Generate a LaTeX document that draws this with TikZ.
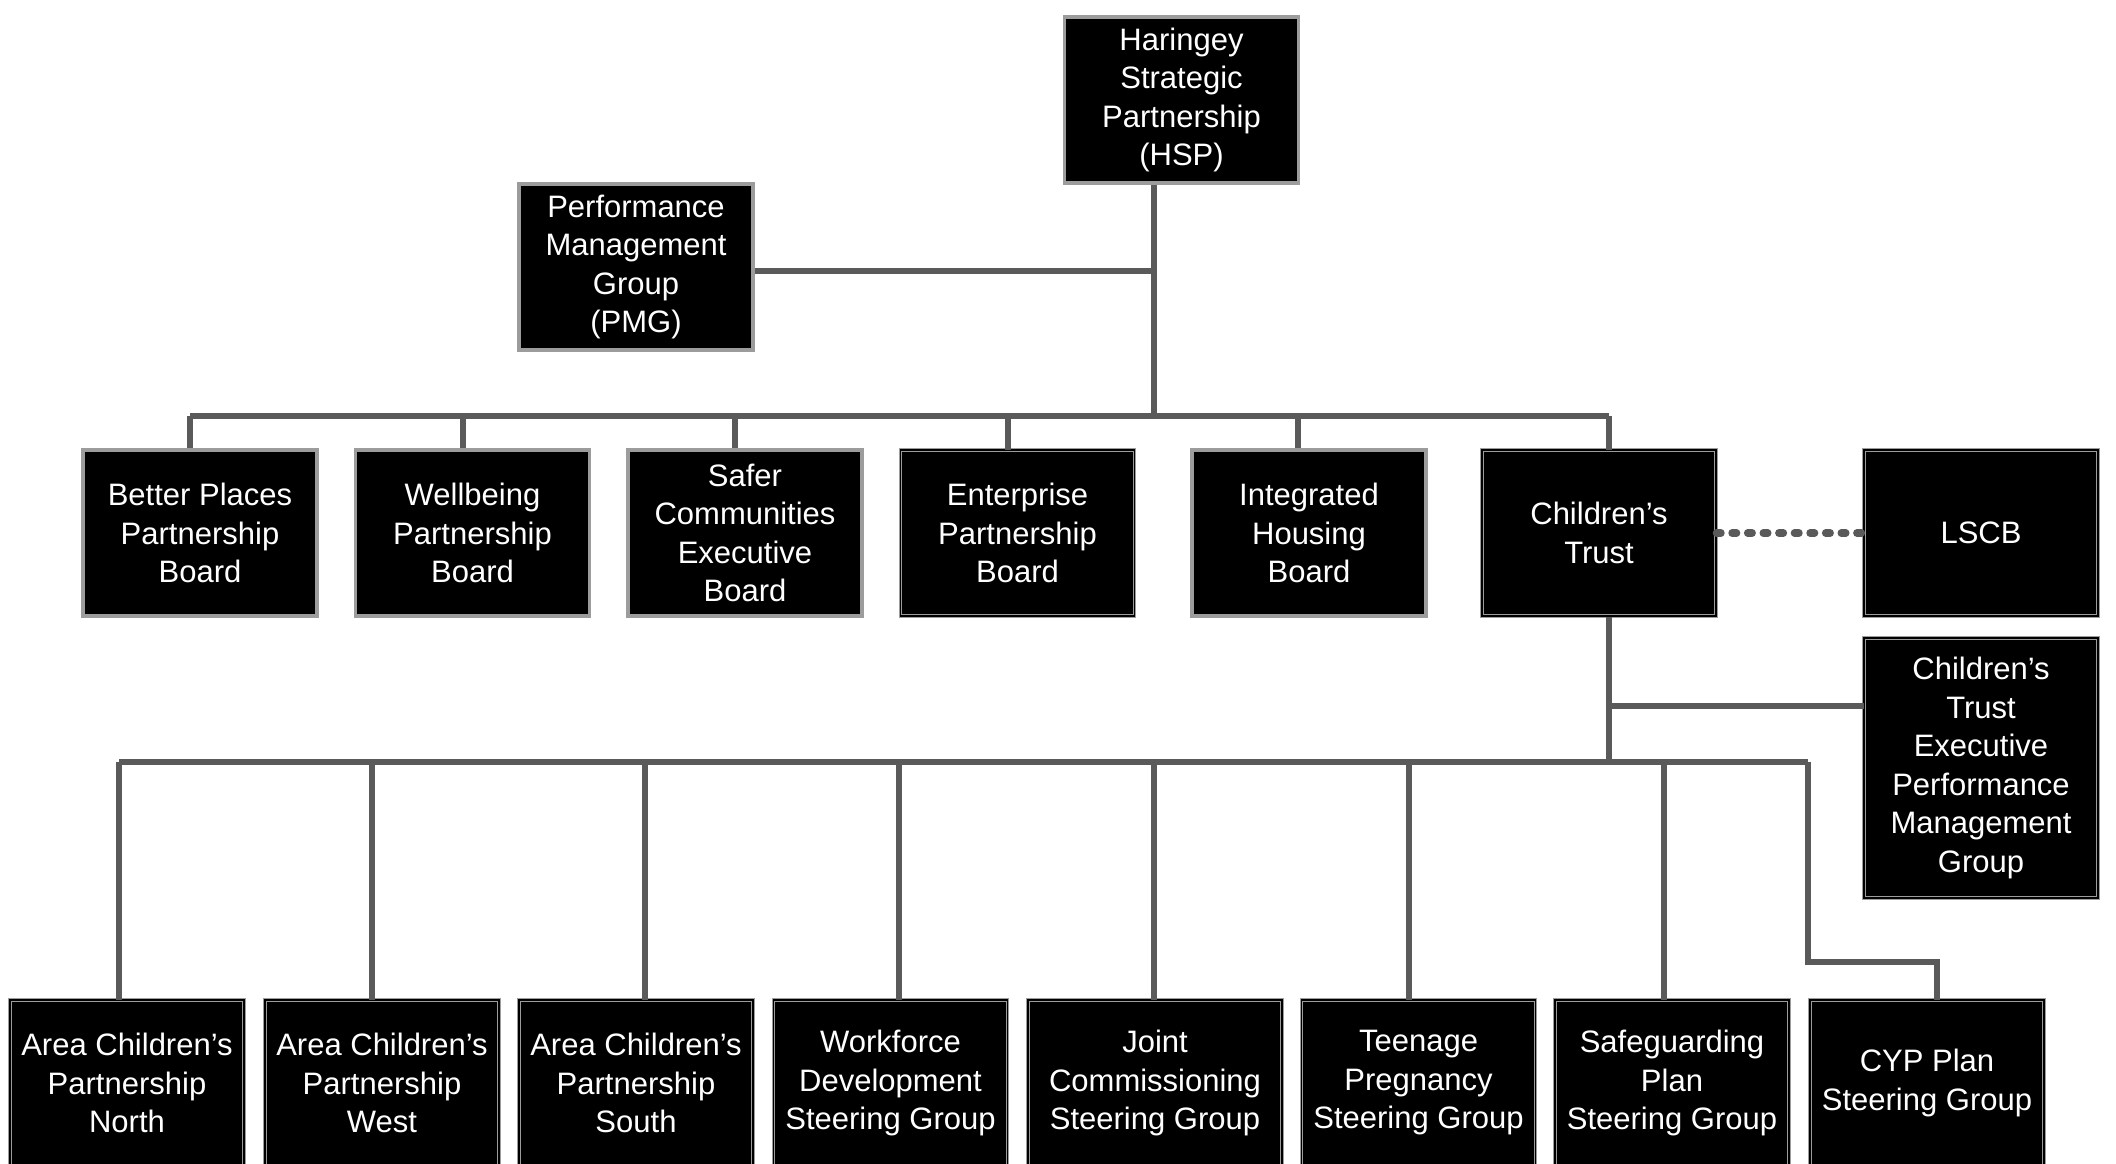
\documentclass[tikz,border=0pt]{standalone}
\usepackage{fontspec}
\setmainfont{Liberation Sans}
\definecolor{linegray}{HTML}{5A5A5A}
\definecolor{boxgray}{HTML}{9C9C9C}
\begin{document}
\begin{tikzpicture}[x=0.5pt,y=-0.5pt,
  box/.style={rectangle,fill=black,text=white,draw=boxgray,line width=1.6pt,
    minimum width=117pt,minimum height=83pt,inner sep=0pt,align=center,
    font=\fontsize{15.5}{19.25}\selectfont},
  dbox/.style={box,draw=boxgray,line width=0.5pt,double=black,double distance=0.9pt},
  conn/.style={draw=linegray,line width=2.8pt},
  dotconn/.style={draw=linegray,line width=3.8pt,line cap=round,dash pattern=on 2.2pt off 5.6pt}]
\useasboundingbox (0,0) rectangle (2116,1163);
\clip (0,0) rectangle (2116,1163);
\fill[white] (0,0) rectangle (2116,1163);
\coordinate (t) at (1154,416);
\coordinate (b1) at (190,416);
\coordinate (b2) at (463,416);
\coordinate (b3) at (735,416);
\coordinate (b4) at (1008,416);
\coordinate (b5) at (1298,416);
\coordinate (b6) at (1609,416);
\coordinate (ct1) at (1609,706);
\coordinate (ct2) at (1609,762);
\coordinate (c1) at (119,762);
\coordinate (c2) at (372,762);
\coordinate (c3) at (645,762);
\coordinate (c4) at (899,762);
\coordinate (c5) at (1154,762);
\coordinate (c6) at (1409,762);
\coordinate (c7) at (1664,762);
\coordinate (c8) at (1808,762);
\coordinate (k1) at (1808,962);
\coordinate (k2) at (1937,962);
% nodes
\node[box] (hsp) at (1181.5,100) {Haringey\\Strategic\\Partnership\\(HSP)};
\node[box] (pmg) at (636,267) {Performance\\Management\\Group\\(PMG)};
\node[box] (bp) at (200,533) {Better Places\\Partnership\\Board};
\node[box] (wb) at (472.5,533) {Wellbeing\\Partnership\\Board};
\node[box] (sc) at (745,533) {Safer\\Communities\\Executive\\Board};
\node[dbox] (ep) at (1017.5,533) {Enterprise\\Partnership\\Board};
\node[box] (ih) at (1309,533) {Integrated\\Housing\\Board};
\node[dbox] (ct) at (1599,533) {Children’s\\Trust};
\node[dbox] (lscb) at (1981,533) {LSCB};
\node[dbox,minimum height=130pt] (ctep) at (1981,768) {Children’s\\Trust\\Executive\\Performance\\Management\\Group};
\node[dbox] (n1) at (127,1083) {Area Children’s\\Partnership\\North};
\node[dbox] (n2) at (382,1083) {Area Children’s\\Partnership\\West};
\node[dbox] (n3) at (636,1083) {Area Children’s\\Partnership\\South};
\node[dbox] (n4) at (890.5,1083) {Workforce\\Development\\Steering Group};
\node[dbox,minimum width=127pt] (n5) at (1155,1083) {Joint\\Commissioning\\Steering Group};
\node[dbox] (n6) at (1418.5,1083) {Teenage\\Pregnancy\\Steering Group};
\node[dbox] (n7) at (1672,1083) {Safeguarding\\Plan\\Steering Group};
\node[dbox] (n8) at (1927,1083) {CYP Plan\\Steering Group};
% connectors
\draw[conn] (hsp.south -| t) -- (t);
\draw[conn] (pmg.east |- 0,271) -- (1154,271);
\draw[conn] (b1) -- (b6);
\draw[conn] (b1) -- (b1 |- bp.north);
\draw[conn] (b2) -- (b2 |- wb.north);
\draw[conn] (b3) -- (b3 |- sc.north);
\draw[conn] (b4) -- (b4 |- ep.north);
\draw[conn] (b5) -- (b5 |- ih.north);
\draw[conn] (b6) -- (b6 |- ct.north);
\draw[dotconn] (ct.east) -- (lscb.west);
\draw[conn] (ct.south -| ct2) -- (ct2);
\draw[conn] (ct1) -- (ct1 -| ctep.west);
\draw[conn] (c1) -- (c8);
\draw[conn] (c1) -- (c1 |- n1.north);
\draw[conn] (c2) -- (c2 |- n2.north);
\draw[conn] (c3) -- (c3 |- n3.north);
\draw[conn] (c4) -- (c4 |- n4.north);
\draw[conn] (c5) -- (c5 |- n5.north);
\draw[conn] (c6) -- (c6 |- n6.north);
\draw[conn] (c7) -- (c7 |- n7.north);
\draw[conn] (c8) -- (k1) -- (k2) -- (k2 |- n8.north);
\end{tikzpicture}
\end{document}
